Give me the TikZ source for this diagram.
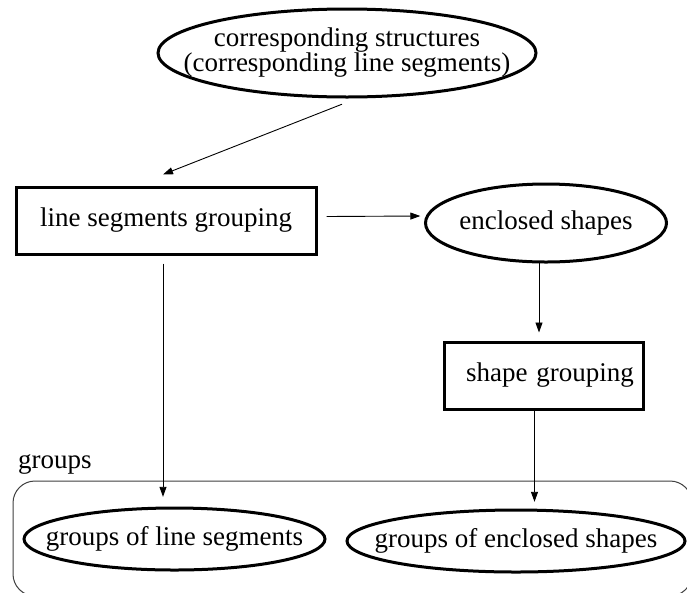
\documentclass[tikz,border=0pt]{standalone}
\usepackage{fontspec}
\setmainfont{Liberation Serif}
\usetikzlibrary{arrows.meta}
\tikzset{
  every node/.style={font=\fontsize{27}{25}\selectfont, inner sep=0pt},
  ovalnode/.style={rectangle},
  ovalline/.style={draw, line width=3pt},
  boxnode/.style={rectangle, draw, line width=3pt},
  arr/.style={draw, line width=0.9pt, -{Triangle[length=10pt,width=7pt]}},
  container/.style={draw=black!75, line width=1pt, rounded corners=22pt}
}
\begin{document}
\begin{tikzpicture}[x=1pt,y=-1pt]
\useasboundingbox (0,0) rectangle (687,592);
\clip (0,0) rectangle (687,592);
\fill[white] (0,0) rectangle (687,592);
% container
\draw[container] (13,481) rectangle (692,596);
\node[anchor=base west] (grp) at (18,468) {groups};
% nodes
\node[ovalnode, minimum width=378pt, minimum height=88pt, align=center] (top) at (347,53)
  {corresponding structures\\(corresponding line segments)};
\node[boxnode, minimum width=300pt, minimum height=67pt] (lsg) at (166,220.5) {line segments grouping};
\node[ovalnode, minimum width=241pt, minimum height=78pt] (encl) at (546,223) {enclosed shapes};
\node[boxnode, minimum width=199pt, minimum height=67pt, text width=199pt, align=center] (sg) at (543.5,375.5) {\hspace*{13pt}shape grouping};
\node[ovalnode, minimum width=301pt, minimum height=62pt] (gls) at (174.5,539) {groups of line segments};
\node[ovalnode, minimum width=338pt, minimum height=62pt] (ges) at (516,541) {groups of enclosed shapes};
% ellipse outlines
\draw[ovalline] (top.center) ellipse [x radius=189pt, y radius=44pt];
\draw[ovalline] (encl.center) ellipse [x radius=120.5pt, y radius=39pt];
\draw[ovalline] (gls.center) ellipse [x radius=150.5pt, y radius=31pt];
\draw[ovalline] (ges.center) ellipse [x radius=169pt, y radius=31pt];
% connectors
\draw[arr] ([xshift=-5pt,yshift=-7pt]top.south) -- ([xshift=-3pt,yshift=11pt]lsg.north);
\draw[arr] ([xshift=9pt,yshift=4pt]lsg.east) -- ([xshift=-5pt,yshift=7pt]encl.west);
\draw[arr] ([xshift=-3pt,yshift=-8pt]lsg.south) -- ([xshift=-11.5pt,yshift=11pt]gls.north);
\draw[arr] ([xshift=-7pt]encl.south) -- ([xshift=-4.5pt,yshift=8pt]sg.north);
\draw[arr] ([xshift=-9pt]sg.south) -- ([xshift=18.5pt,yshift=8pt]ges.north);
\end{tikzpicture}
\end{document}
